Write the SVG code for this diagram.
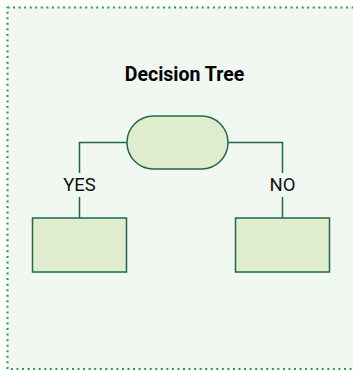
<svg xmlns="http://www.w3.org/2000/svg" width="353" height="370" viewBox="0 0 353 370">
<style>
.node{fill:#dfecce;stroke:#1d6a4b;stroke-width:1.5}
.edge{fill:none;stroke:#1d6a4b;stroke-width:1.5}
.lbl{font-family:Roboto,"Liberation Sans",sans-serif;font-size:18.5px;fill:#111;text-anchor:middle}
.title{font-family:Roboto,"Liberation Sans",sans-serif;font-size:19.5px;font-weight:bold;fill:#000;text-anchor:middle}
</style>
<rect x="7.5" y="7.5" width="352" height="361.5" fill="#f1f8f1" stroke="#2a9a40" stroke-width="2" stroke-dasharray="2 3.55"/>
<text class="title" x="184.5" y="80.8">Decision Tree</text>
<g id="connectors">
<path class="edge" d="M127 142.5 H79.5 V173"/>
<path class="edge" d="M79.5 197 V218"/>
<path class="edge" d="M228 142.5 H282.5 V173"/>
<path class="edge" d="M282.5 197 V218"/>
<text class="lbl" x="79.5" y="191">YES</text>
<text class="lbl" x="282.5" y="191">NO</text>
</g>
<g id="root"><rect class="node" x="127" y="116" width="101" height="53" rx="26.5"/></g>
<g id="yes"><rect class="node" x="32.5" y="218" width="94" height="54"/></g>
<g id="no"><rect class="node" x="235.5" y="218" width="94" height="54"/></g>
</svg>
